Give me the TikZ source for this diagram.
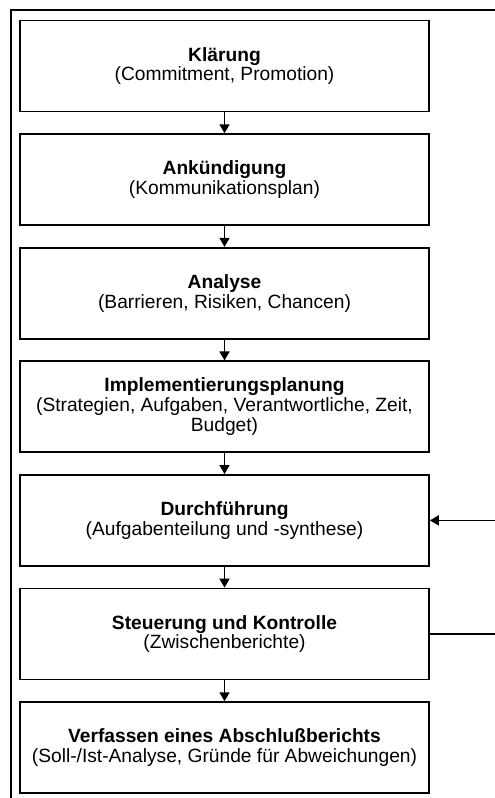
\documentclass[tikz,border=0pt]{standalone}
\usepackage{fontspec}
\setmainfont{Liberation Sans}
\usetikzlibrary{arrows.meta}
\begin{document}
\begin{tikzpicture}[x=1pt,y=1pt,
  stepbox/.style={draw=black, line width=1.7pt, minimum width=409pt, minimum height=91pt,
    align=center, inner sep=0pt, font=\fontsize{19.2}{19.8}\selectfont},
  flow/.style={line width=1.6pt, -{Triangle[length=9pt,width=10pt]}},
  frame/.style={line width=2.2pt}]
\useasboundingbox (0,0) rectangle (495,-798);
% outer frame (top and left edges only)
\draw[frame] (495,-10.3) -- (11,-10.3) -- (11,-798);
% process steps
\node[stepbox] (s1) at (224.5,-66)    {\textbf{Klärung}\\(Commitment, Promotion)};
\node[stepbox] (s2) at (224.5,-179.6) {\textbf{Ankündigung}\\(Kommunikationsplan)};
\node[stepbox] (s3) at (224.5,-293.2) {\textbf{Analyse}\\(Barrieren, Risiken, Chancen)};
\node[stepbox] (s4) at (224.5,-406.8) {\textbf{Implementierungsplanung}\\(Strategien, Aufgaben, Verantwortliche, Zeit,\\Budget)};
\node[stepbox] (s5) at (224.5,-520.4) {\textbf{Durchführung}\\(Aufgabenteilung und -synthese)};
\node[stepbox] (s6) at (224.5,-634)   {\textbf{Steuerung und Kontrolle}\\(Zwischenberichte)};
\node[stepbox] (s7) at (224.5,-747.6) {\textbf{Verfassen eines Abschlußberichts}\\(Soll-/Ist-Analyse, Gründe für Abweichungen)};
% sequence arrows
\foreach \a/\b in {s1/s2,s2/s3,s3/s4,s4/s5,s5/s6,s6/s7}
  \draw[flow] (\a.south) -- (\b.north);
% feedback lines leaving to the right
\coordinate (fbin) at (495,-520.4);
\coordinate (fbout) at (495,-634);
\draw[flow] (fbin) -- (s5.east);
\draw[line width=1.6pt] (s6.east) -- (fbout);
\end{tikzpicture}
\end{document}
